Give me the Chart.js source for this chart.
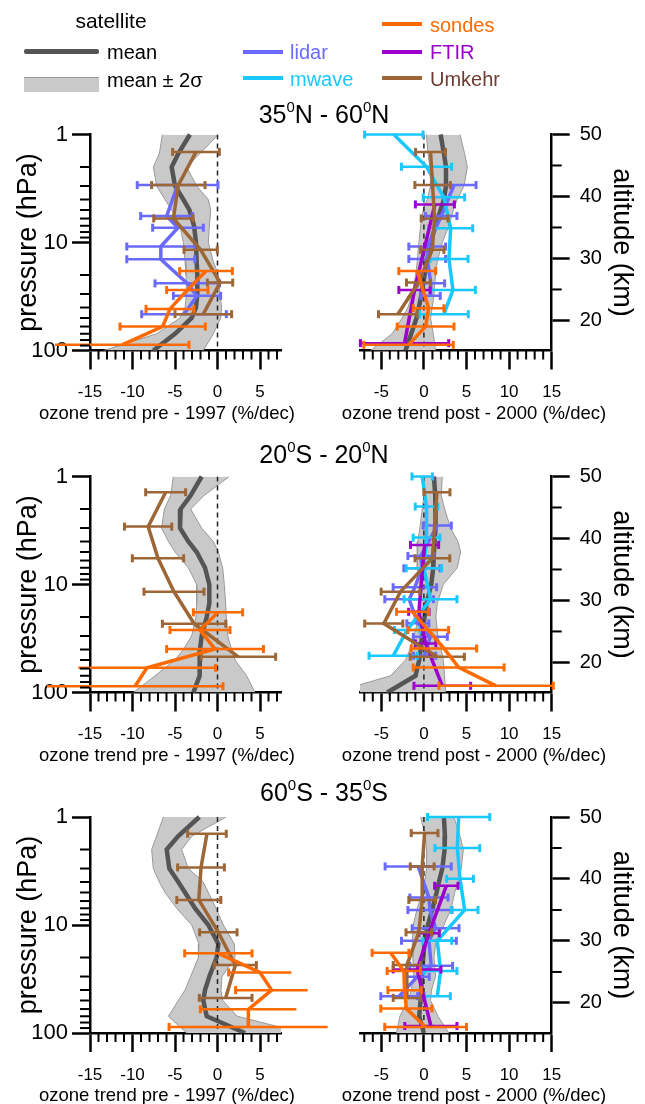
<!DOCTYPE html>
<html>
<head>
<meta charset="utf-8">
<script src="https://cdn.jsdelivr.net/npm/chart.js@4.4.1/dist/chart.umd.min.js"></script>
<style>
  body { margin: 0; background: #fff; font-family: "Liberation Sans", Arial, Helvetica, sans-serif; }
  #wrap { position: relative; width: 645px; height: 1104px; overflow: hidden; }
  canvas { position: absolute; left: 0; top: 0; }
  .t { position: absolute; white-space: nowrap; color: #000; line-height: 1; }
  .c { transform: translate(-50%, -50%); }
  .l { transform: translateY(-50%); }
  .sw { position: absolute; }
  sup { font-size: 0.6em; vertical-align: 0.7em; line-height: 0; }
</style>
</head>
<body>
<div id="wrap">
  <canvas id="c0" width="645" height="1104"></canvas>
  <canvas id="c1" width="645" height="1104"></canvas>
  <canvas id="c2" width="645" height="1104"></canvas>
  <canvas id="c3" width="645" height="1104"></canvas>
  <canvas id="c4" width="645" height="1104"></canvas>
  <canvas id="c5" width="645" height="1104"></canvas>

  <!-- legend -->
  <div class="t c" style="left:111px;top:20px;font-size:21px">satellite</div>
  <div class="sw" style="left:24px;top:48.5px;width:75px;height:5px;background:#555;border-radius:2px"></div>
  <div class="t l" style="left:107px;top:52px;font-size:20px">mean</div>
  <div class="sw" style="left:24px;top:77px;width:75px;height:14px;background:#c9c9c9;border-top:1.5px solid #999"></div>
  <div class="t l" style="left:107px;top:80px;font-size:20px">mean ± 2σ</div>

  <div class="sw" style="left:243px;top:49.5px;width:40px;height:4px;background:#6a6aff"></div>
  <div class="t l" style="left:290px;top:52px;font-size:20px;color:#6a6aff">lidar</div>
  <div class="sw" style="left:243px;top:76px;width:40px;height:4px;background:#19c8ff"></div>
  <div class="t l" style="left:290px;top:79px;font-size:20px;color:#19c8ff">mwave</div>

  <div class="sw" style="left:382px;top:22px;width:40px;height:4px;background:#ff6a00"></div>
  <div class="t l" style="left:430px;top:25px;font-size:20px;color:#ff6a00">sondes</div>
  <div class="sw" style="left:382px;top:49.5px;width:40px;height:4px;background:#9b00cc"></div>
  <div class="t l" style="left:430px;top:52px;font-size:20px;color:#9b00cc">FTIR</div>
  <div class="sw" style="left:382px;top:76px;width:40px;height:4px;background:#9c6636"></div>
  <div class="t l" style="left:430px;top:79px;font-size:20px;color:#6e3b30">Umkehr</div>

  <!-- row titles -->
  <div class="t c" style="left:324px;top:114px;font-size:25px">35<sup>0</sup>N - 60<sup>0</sup>N</div>
  <div class="t c" style="left:324px;top:454px;font-size:25px">20<sup>0</sup>S - 20<sup>0</sup>N</div>
  <div class="t c" style="left:324px;top:792px;font-size:25px">60<sup>0</sup>S - 35<sup>0</sup>S</div>

  <!-- x axis titles -->
  <div class="t c" style="left:167px;top:413px;font-size:18.5px">ozone trend pre - 1997 (%/dec)</div>
  <div class="t c" style="left:474px;top:413px;font-size:18.5px">ozone trend post - 2000 (%/dec)</div>
  <div class="t c" style="left:167px;top:755px;font-size:18.5px">ozone trend pre - 1997 (%/dec)</div>
  <div class="t c" style="left:474px;top:755px;font-size:18.5px">ozone trend post - 2000 (%/dec)</div>
  <div class="t c" style="left:167px;top:1095px;font-size:18.5px">ozone trend pre - 1997 (%/dec)</div>
  <div class="t c" style="left:474px;top:1095px;font-size:18.5px">ozone trend post - 2000 (%/dec)</div>
</div>

<script>
const FONT = '"Liberation Sans", Arial, Helvetica, sans-serif';
Chart.defaults.font.family = FONT;

// --- axes ---
const satLevels = [1, 1.5, 2, 3, 4, 5, 7, 10, 15, 20, 30, 40, 50, 70, 100];
const preTicks = [-15, -10, -5, 0, 5];
const postTicks = [-5, 0, 5, 10, 15];
const pressureTicks = [1, 10, 100];
const pressureMinor = [2, 3, 4, 5, 6, 7, 8, 9, 20, 30, 40, 50, 60, 70, 80, 90];
const altTicks = [20, 30, 40, 50];
const altMinor = [25, 35, 45];

// --- 35N - 60N, pre-1997 ---
const nPreMean = [-3.24, -4.61, -5.39, -5.0, -4.02, -3.31, -2.76, -2.53, -2.45, -2.37, -2.37, -2.53, -3.04, -5.0, -7.55];
const nPreLo   = [-6.49, -6.84, -7.55, -7.16, -6.18, -5.39, -4.41, -4.02, -3.82, -3.71, -3.63, -3.82, -4.41, -7.16, -13.4];
const nPreHi   = [0.10, -2.06, -3.63, -2.45, -1.08, -0.80, -0.96, -1.08, -0.49, 0.10, 0.29, 0.49, 0.37, -0.49, -1.67];
const nPreLidarP = [2.94, 5.69, 7.29, 10.9, 14.3, 23.9, 31.2, 46.1];
const nPreLidarV = [-4.69, -5.98, -4.65, -6.67, -6.67, -3.55, -2.41, -3.94];
const nPreLidarE = [4.75, 3.06, 2.98, 4.0, 4.0, 3.8, 2.78, 4.98];
const nPreUmkP = [1.45, 2.94, 5.98, 11.7, 23.5, 46.1];
const nPreUmkV = [-2.53, -4.61, -5.19, -1.98, 0.3, -1.67];
const nPreUmkE = [2.75, 3.14, 2.31, 1.96, 1.49, 3.33];
const nPreSondeP = [18.4, 27.5, 41.2, 60.0, 88.6];
const nPreSondeV = [-1.35, -3.55, -5.59, -6.45, -11.23];
const nPreSondeE = [3.1, 2.43, 2.82, 5.02, 7.88];

// --- 35N - 60N, post-2000 ---
const nPostMean = [1.96, 2.35, 2.59, 2.59, 2.35, 1.96, 1.37, 0.78, 0.39, 0.08, -0.27, -0.59, -0.86, -1.49, -2.16];
const nPostLo   = [0.31, 0.47, 0.71, 0.78, 0.39, -0.08, -0.39, -0.59, -0.78, -0.98, -1.37, -1.88, -2.55, -3.73, -6.27];
const nPostHi   = [4.24, 4.78, 5.10, 4.71, 3.92, 3.45, 2.94, 2.16, 1.57, 1.37, 1.18, 0.98, 0.78, 1.10, 1.37];
const nPostMwaveP = [1.0, 1.99, 3.82, 7.39, 14.2, 27.5, 46.1];
const nPostMwaveV = [-3.53, 0.31, 2.35, 3.14, 2.94, 3.41, 2.35];
const nPostMwaveE = [3.43, 2.94, 2.43, 2.59, 2.24, 2.63, 2.86];
const nPostLidarP = [2.94, 5.69, 10.9, 14.2, 23.9, 31.2];
const nPostLidarV = [3.53, 2.04, 0.39, 0.39, 0.82, 0.78];
const nPostLidarE = [2.59, 1.84, 2.16, 2.16, 1.61, 1.14];
const nPostFtirP = [4.44, 27.5, 85.5];
const nPostFtirV = [1.29, -1.1, -2.27];
const nPostFtirE = [2.29, 1.84, 5.18];
const nPostUmkP = [1.45, 2.94, 5.98, 11.7, 23.5, 46.1];
const nPostUmkV = [0.78, 1.02, 1.25, 0.98, -0.63, -3.06];
const nPostUmkE = [1.76, 2.08, 1.57, 1.37, 1.41, 2.27];
const nPostSondeP = [18.4, 40.6, 60.0, 88.6];
const nPostSondeV = [-0.78, 0.55, 0.2, -1.8];
const nPostSondeE = [2.16, 1.8, 3.33, 5.25];

// --- 20S - 20N, pre-1997 ---
const tPreMean = [-1.86, -3.16, -4.33, -4.41, -3.43, -2.45, -1.47, -0.96, -0.96, -1.27, -1.86, -2.06, -2.06, -2.14, -2.84];
const tPreLo   = [-5.2, -5.51, -6.25, -6.57, -5.78, -5.0, -3.43, -2.45, -2.45, -2.53, -3.04, -4.02, -5.0, -7.35, -9.9];
const tPreHi   = [1.39, -1.59, -3.16, -1.86, -0.49, 0.1, 0.61, 0.8, 0.96, 1.04, 1.2, 1.67, 2.06, 3.43, 4.41];
const tPreUmkP = [1.4, 2.91, 5.72, 11.65, 23.1, 46.7];
const tPreUmkV = [-6.1, -8.16, -7.0, -5.12, -2.75, 2.45];
const tPreUmkE = [2.35, 2.78, 3.02, 3.53, 3.73, 4.39];
const tPreSondeP = [18.1, 26.4, 39.6, 59.1, 87.4];
const tPreSondeV = [0.06, -2.06, -0.29, -8.3, -9.7];
const tPreSondeE = [2.9, 3.53, 5.69, 8.08, 10.35];

// --- 20S - 20N, post-2000 ---
const tPostMean = [1.18, 1.33, 1.37, 1.37, 1.25, 1.18, 1.1, 0.86, 0.31, 0.08, -0.2, -0.39, -0.55, -0.98, -4.31];
const tPostLo   = [-0.2, 0, -0.2, -0.47, -0.71, -0.78, -0.78, -0.55, -0.39, -0.59, -1.18, -1.65, -2.16, -3.92, -10.6];
const tPostHi   = [2.16, 2.04, 2.43, 3.14, 4.0, 4.31, 3.92, 2.27, 1.57, 1.41, 1.65, 2.04, 2.27, 2.43, 2.55];
const tPostMwaveP = [1.0, 1.9, 3.68, 7.08, 13.7, 26.4, 45.7];
const tPostMwaveV = [-0.2, 0.31, 0.31, 0.0, 0.78, -1.96, -3.6];
const tPostMwaveE = [1.2, 1.33, 1.57, 2.08, 3.1, 1.5, 2.84];
const tPostLidarP = [2.85, 5.44, 7.08, 10.6, 13.7, 22.9, 30.5, 45.7];
const tPostLidarV = [1.57, -0.35, -0.24, -1.06, -1.73, -0.71, 0.75, 0.08];
const tPostLidarE = [1.65, 1.53, 2.12, 2.55, 2.86, 1.29, 2.0, 1.3];
const tPostFtirP = [4.3, 17.9, 35.1, 86.7];
const tPostFtirV = [0.08, -0.59, 0.2, 2.16];
const tPostFtirE = [1.65, 1.2, 1.2, 3.33];
const tPostUmkP = [1.4, 5.72, 11.65, 23.0, 46.7];
const tPostUmkV = [1.53, 1.0, -2.75, -4.71, 1.57];
const tPostUmkE = [1.53, 2.04, 2.27, 2.24, 3.18];
const tPostSondeP = [17.9, 26.4, 39.1, 58.6, 86.7];
const tPostSondeV = [-1.33, 0.51, 2.35, 4.08, 8.47];
const tPostSondeE = [1.88, 2.39, 3.84, 5.33, 6.71];

// --- 60S - 35S, pre-1997 ---
const sPreMean = [-2.14, -4.61, -5.98, -5.67, -4.61, -3.82, -2.65, -1.08, 0.1, -0.1, -0.96, -1.47, -1.67, -1.27, 3.24];
const sPreLo   = [-6.37, -7.16, -7.75, -7.55, -6.84, -6.18, -4.8, -3.04, -2.18, -2.25, -3.16, -3.82, -4.61, -5.78, -3.63];
const sPreHi   = [1.0, -3.0, -4.22, -3.43, -1.67, -1.08, -0.18, 0.69, 1.98, 2.06, 0.53, 0.41, 0.61, 2.33, 10.1];
const sPreUmkP = [1.43, 2.93, 5.86, 11.7, 23.5, 47.3];
const sPreUmkV = [-1.24, -1.94, -2.2, 0.1, 2.1, 0.96];
const sPreUmkE = [2.27, 2.75, 2.59, 2.2, 2.47, 3.1];
const sPreSondeP = [18.3, 27.5, 40.1, 60.3, 87.9];
const sPreSondeV = [0.1, 5.0, 6.37, 3.63, 3.63];
const sPreSondeE = [3.96, 3.69, 4.24, 5.65, 9.33];

// --- 60S - 35S, post-2000 ---
const sPostMean = [2.35, 2.47, 2.43, 2.16, 1.76, 1.49, 1.02, 0.47, 0.08, -0.08, -0.24, -0.31, -0.39, -0.55, 0];
const sPostLo   = [-0.39, 0.16, 0.31, 0.31, 0.08, -0.2, -0.78, -1.25, -1.37, -1.29, -1.18, -1.49, -1.88, -2.82, -3.22];
const sPostHi   = [3.53, 4.24, 4.63, 4.39, 4.0, 3.61, 3.22, 2.35, 1.37, 1.18, 1.37, 0.9, 0.78, 1.65, 2.94];
const sPostMwaveP = [1.0, 1.94, 3.74, 7.26, 14.0, 26.7, 45.6];
const sPostMwaveV = [4.08, 3.92, 4.24, 4.78, 1.57, 1.96, 1.57];
const sPostMwaveE = [3.65, 2.63, 1.57, 1.57, 1.69, 1.92, 1.53];
const sPostLidarP = [2.87, 5.57, 7.26, 10.7, 14.0, 23.9, 30.2, 45.6];
const sPostLidarV = [-0.67, 0.59, 0.71, 1.37, 0.59, 0.86, -0.78, -2.9];
const sPostLidarE = [3.88, 2.24, 2.59, 2.75, 3.22, 2.51, 1.4, 2.16];
const sPostFtirP = [4.34, 11.9, 25.8, 86.1];
const sPostFtirV = [2.63, 0.6, -0.8, 0.82];
const sPostFtirE = [1.37, 1.2, 2.8, 3.06];
const sPostUmkP = [1.41, 2.87, 5.86, 11.7, 23.5, 47.3];
const sPostUmkV = [0.08, -0.2, -0.2, -0.6, -2.0, -2.0];
const sPostUmkE = [1.57, 1.4, 1.57, 1.5, 1.6, 1.6];
const sPostSondeP = [18.1, 26.7, 40.1, 59.4, 87.9];
const sPostSondeV = [-3.92, -2.35, -2.27, -2.06, 0.2];
const sPostSondeE = [2.16, 1.96, 1.96, 3.0, 4.8];

// --- styles ---
const colors = { lidar: '#6a6aff', mwave: '#19c8ff', ftir: '#9b00cc', umkehr: '#9c6636', sondes: '#ff6a00' };
const drawOrder = { sondes: 1, umkehr: 2, ftir: 3, mwave: 4, lidar: 5 };

const W = 645, H = 1104, XH = 50;
const rows = [
  { top: 134.5, bottom: 350.5 },
  { top: 476.5, bottom: 692.5 },
  { top: 817, bottom: 1033 }
];

const panels = [
  { id: 'c0', row: 0, side: 'pre', mean: nPreMean, lo: nPreLo, hi: nPreHi, series: [
    ['lidar', nPreLidarP, nPreLidarV, nPreLidarE],
    ['umkehr', nPreUmkP, nPreUmkV, nPreUmkE],
    ['sondes', nPreSondeP, nPreSondeV, nPreSondeE]] },
  { id: 'c1', row: 0, side: 'post', mean: nPostMean, lo: nPostLo, hi: nPostHi, series: [
    ['lidar', nPostLidarP, nPostLidarV, nPostLidarE],
    ['mwave', nPostMwaveP, nPostMwaveV, nPostMwaveE],
    ['ftir', nPostFtirP, nPostFtirV, nPostFtirE],
    ['umkehr', nPostUmkP, nPostUmkV, nPostUmkE],
    ['sondes', nPostSondeP, nPostSondeV, nPostSondeE]] },
  { id: 'c2', row: 1, side: 'pre', mean: tPreMean, lo: tPreLo, hi: tPreHi, series: [
    ['umkehr', tPreUmkP, tPreUmkV, tPreUmkE],
    ['sondes', tPreSondeP, tPreSondeV, tPreSondeE]] },
  { id: 'c3', row: 1, side: 'post', mean: tPostMean, lo: tPostLo, hi: tPostHi, series: [
    ['lidar', tPostLidarP, tPostLidarV, tPostLidarE],
    ['mwave', tPostMwaveP, tPostMwaveV, tPostMwaveE],
    ['ftir', tPostFtirP, tPostFtirV, tPostFtirE],
    ['umkehr', tPostUmkP, tPostUmkV, tPostUmkE],
    ['sondes', tPostSondeP, tPostSondeV, tPostSondeE]] },
  { id: 'c4', row: 2, side: 'pre', mean: sPreMean, lo: sPreLo, hi: sPreHi, series: [
    ['umkehr', sPreUmkP, sPreUmkV, sPreUmkE],
    ['sondes', sPreSondeP, sPreSondeV, sPreSondeE]] },
  { id: 'c5', row: 2, side: 'post', mean: sPostMean, lo: sPostLo, hi: sPostHi, series: [
    ['lidar', sPostLidarP, sPostLidarV, sPostLidarE],
    ['mwave', sPostMwaveP, sPostMwaveV, sPostMwaveE],
    ['ftir', sPostFtirP, sPostFtirV, sPostFtirE],
    ['umkehr', sPostUmkP, sPostUmkV, sPostUmkE],
    ['sondes', sPostSondeP, sPostSondeV, sPostSondeE]] }
];

function range(a, b, skip) {
  const out = [];
  for (let v = a; v <= b; v++) if (!skip.includes(v)) out.push(v);
  return out;
}

// short minor ticks, placed with the chart's own scales
function minorTickPlugin(list) {
  return {
    id: 'minorTicks',
    afterDraw(chart) {
      const ctx = chart.ctx;
      ctx.save();
      ctx.strokeStyle = '#000';
      ctx.lineWidth = 2;
      list.forEach(m => {
        const s = chart.scales[m.axis];
        m.values.forEach(v => {
          const px = s.getPixelForValue(v);
          ctx.beginPath();
          if (m.axis === 'x') {
            ctx.moveTo(px, s.top); ctx.lineTo(px, s.top + m.len);
          } else if (m.axis === 'y') {
            ctx.moveTo(chart.chartArea.left - m.len, px); ctx.lineTo(chart.chartArea.left, px);
          } else {
            ctx.moveTo(chart.chartArea.right, px); ctx.lineTo(chart.chartArea.right + m.len, px);
          }
          ctx.stroke();
        });
      });
      ctx.restore();
    }
  };
}

function buildDatasets(panel) {
  const ds = [];
  ds.push({ data: satLevels.map((p, i) => ({ x: panel.lo[i], y: p })), borderColor: '#9a9a9a', borderWidth: 1,
    pointRadius: 0, fill: false, order: 20 });
  ds.push({ data: satLevels.map((p, i) => ({ x: panel.hi[i], y: p })), borderColor: '#9a9a9a', borderWidth: 1,
    pointRadius: 0, fill: '-1', backgroundColor: '#c9c9c9', order: 20 });
  ds.push({ data: satLevels.map((p, i) => ({ x: panel.mean[i], y: p })), borderColor: '#555555', borderWidth: 4.5,
    pointRadius: 0, order: 18, clip: false });
  ds.push({ data: [{ x: 0, y: 1 }, { x: 0, y: 100 }], borderColor: '#222', borderWidth: 1.5, borderDash: [5, 4],
    pointRadius: 0, order: 15 });

  panel.series.forEach(([name, p, v, e]) => {
    const col = colors[name];
    const bars = [];
    p.forEach((pp, i) => {
      bars.push({ x: v[i] - e[i], y: pp }, { x: v[i] + e[i], y: pp }, { x: null, y: null });
    });
    ds.push({ data: bars, borderColor: col, borderWidth: 2.5, pointStyle: 'line', pointRotation: 90,
      pointRadius: 4, pointBorderWidth: 3, pointBorderColor: col, spanGaps: false,
      order: drawOrder[name], clip: false });
    ds.push({ data: p.map((pp, i) => ({ x: v[i], y: pp })), borderColor: col, borderWidth: 3.5,
      pointRadius: 0, order: drawOrder[name], clip: false });
  });
  return ds;
}

const tickFont = { size: 17, family: FONT };
const yFont = { size: 22, family: FONT };
const altFont = { size: 20, family: FONT };
const titleFont = { size: 27, family: FONT };

panels.forEach(panel => {
  const r = rows[panel.row];
  const pre = panel.side === 'pre';
  const scales = {
    x: {
      type: 'linear', min: pre ? -15 : -7.5, max: pre ? 7.5 : 15,
      afterBuildTicks: s => { s.ticks = (pre ? preTicks : postTicks).map(v => ({ value: v })); },
      afterFit: s => { s.height = XH; },
      grid: { drawOnChartArea: false, tickLength: 19, tickColor: '#000', tickWidth: 2.5 },
      border: { color: '#000', width: 2.5 },
      ticks: { font: tickFont, color: '#000', padding: 13, maxRotation: 0, autoSkip: false, callback: v => String(v) }
    },
    y: {
      type: 'logarithmic', reverse: true, min: 1, max: 100, display: pre,
      afterBuildTicks: s => { s.ticks = pressureTicks.map(v => ({ value: v })); },
      afterFit: s => { s.width = pre ? 90 : 0; },
      grid: { drawOnChartArea: false, tickLength: 18, tickColor: '#000', tickWidth: 2.5 },
      border: { color: '#000', width: 2.5 },
      ticks: { font: yFont, color: '#000', padding: 4, autoSkip: false, callback: v => String(v) },
      title: { display: true, text: 'pressure (hPa)', font: titleFont, color: '#000', padding: { top: 12, bottom: 0 } }
    }
  };
  const minors = [
    { axis: 'x', len: 9, values: pre ? range(-15, 7, preTicks) : range(-7, 15, postTicks) }
  ];
  if (pre) {
    minors.push({ axis: 'y', len: 10, values: pressureMinor });
  } else {
    scales.alt = {
      type: 'linear', axis: 'y', position: 'right', min: 15.15, max: 50,
      afterBuildTicks: s => { s.ticks = altTicks.map(v => ({ value: v })); },
      afterFit: s => { s.width = 93.3; },
      grid: { drawOnChartArea: false, tickLength: 18, tickColor: '#000', tickWidth: 2.5 },
      border: { color: '#000', width: 2.5 },
      ticks: { font: altFont, color: '#000', padding: 10, autoSkip: false, callback: v => String(v) },
      title: { display: true, text: 'altitude (km)', font: titleFont, color: '#000', padding: { top: 7, bottom: 0 } }
    };
    minors.push({ axis: 'alt', len: 10, values: altMinor });
  }

  new Chart(document.getElementById(panel.id), {
    type: 'line',
    data: { datasets: buildDatasets(panel) },
    options: {
      animation: false,
      responsive: false,
      devicePixelRatio: 1,
      indexAxis: 'y',
      events: [],
      layout: {
        autoPadding: false,
        padding: pre
          ? { top: r.top, bottom: H - r.bottom - XH, left: 0, right: W - 281.25 }
          : { top: r.top, bottom: H - r.bottom - XH, left: 360, right: 0 }
      },
      plugins: { legend: { display: false }, tooltip: { enabled: false } },
      scales
    },
    plugins: [minorTickPlugin(minors)]
  });
});
</script>
</body>
</html>
